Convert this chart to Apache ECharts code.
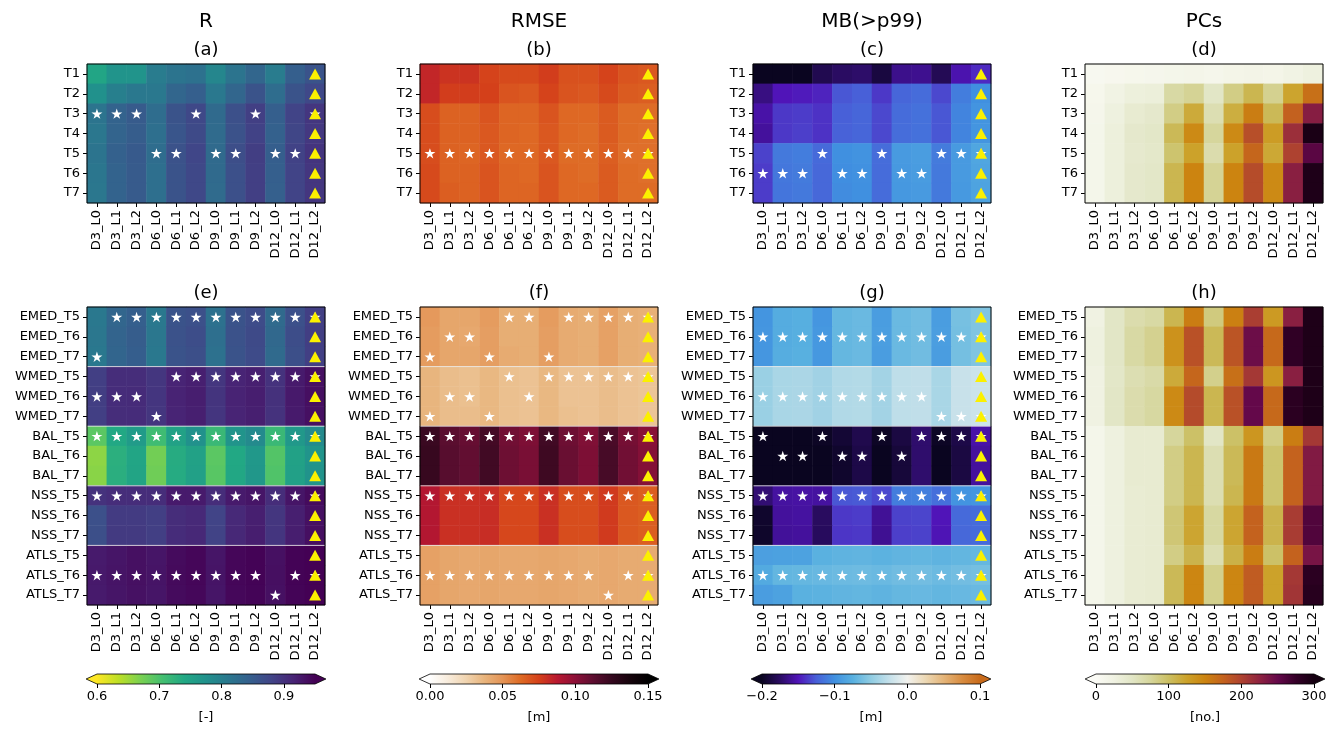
<!DOCTYPE html>
<html><head><meta charset="utf-8">
<script src="https://cdn.jsdelivr.net/npm/echarts@6.0.0/dist/echarts.min.js"></script>
<style>html,body{margin:0;padding:0;background:#fff}#c{width:1340px;height:730px}</style>
</head><body><div id="c"></div><script>
const cols = ['D3_L0','D3_L1','D3_L2','D6_L0','D6_L1','D6_L2','D9_L0','D9_L1','D9_L2','D12_L0','D12_L1','D12_L2'];
const rowsTop = ['T1','T2','T3','T4','T5','T6','T7'];
const rowsBot = ['EMED_T5','EMED_T6','EMED_T7','WMED_T5','WMED_T6','WMED_T7','BAL_T5','BAL_T6','BAL_T7','NSS_T5','NSS_T6','NSS_T7','ATLS_T5','ATLS_T6','ATLS_T7'];

const R_top = [
[0.745,0.77,0.77,0.805,0.815,0.82,0.79,0.815,0.835,0.805,0.845,0.86],
[0.775,0.80,0.81,0.81,0.835,0.845,0.81,0.835,0.86,0.825,0.86,0.875],
[0.815,0.84,0.85,0.825,0.86,0.875,0.83,0.865,0.885,0.845,0.88,0.895],
[0.812,0.838,0.848,0.822,0.858,0.872,0.828,0.862,0.882,0.842,0.878,0.893],
[0.815,0.842,0.852,0.825,0.862,0.877,0.83,0.867,0.887,0.846,0.882,0.897],
[0.813,0.84,0.85,0.823,0.86,0.875,0.829,0.865,0.885,0.845,0.88,0.895],
[0.812,0.84,0.85,0.822,0.86,0.875,0.828,0.865,0.885,0.844,0.88,0.895]];
const R_bot = [
[0.81,0.835,0.845,0.81,0.86,0.865,0.82,0.86,0.87,0.83,0.865,0.885],
[0.812,0.838,0.848,0.812,0.862,0.868,0.822,0.862,0.872,0.832,0.868,0.887],
[0.81,0.836,0.846,0.81,0.86,0.866,0.82,0.86,0.871,0.83,0.866,0.886],
[0.885,0.905,0.905,0.895,0.915,0.92,0.895,0.915,0.92,0.9,0.925,0.935],
[0.887,0.906,0.907,0.896,0.916,0.921,0.897,0.916,0.921,0.901,0.926,0.936],
[0.886,0.905,0.906,0.895,0.915,0.92,0.896,0.915,0.92,0.9,0.925,0.935],
[0.69,0.74,0.76,0.71,0.75,0.775,0.715,0.77,0.785,0.715,0.765,0.785],
[0.66,0.73,0.745,0.675,0.735,0.75,0.69,0.74,0.765,0.695,0.75,0.77],
[0.662,0.731,0.746,0.677,0.736,0.752,0.692,0.742,0.766,0.697,0.752,0.772],
[0.9,0.905,0.905,0.905,0.925,0.925,0.905,0.925,0.93,0.905,0.93,0.94],
[0.865,0.89,0.89,0.885,0.905,0.91,0.88,0.91,0.92,0.895,0.92,0.935],
[0.866,0.891,0.891,0.886,0.906,0.911,0.881,0.911,0.921,0.896,0.921,0.936],
[0.925,0.93,0.935,0.93,0.94,0.945,0.93,0.945,0.948,0.935,0.948,0.95],
[0.926,0.931,0.935,0.931,0.941,0.945,0.931,0.945,0.948,0.936,0.948,0.95],
[0.925,0.93,0.934,0.93,0.94,0.944,0.93,0.944,0.947,0.935,0.947,0.95]];

const RMSE_top = [
[0.083,0.079,0.079,0.074,0.072,0.072,0.076,0.070,0.070,0.074,0.069,0.068],
[0.083,0.076,0.076,0.075,0.069,0.068,0.074,0.069,0.068,0.072,0.067,0.066],
[0.071,0.065,0.065,0.069,0.064,0.064,0.069,0.063,0.063,0.067,0.062,0.062],
[0.071,0.065,0.065,0.068,0.064,0.063,0.068,0.063,0.062,0.067,0.062,0.061],
[0.071,0.065,0.064,0.068,0.063,0.063,0.068,0.062,0.062,0.066,0.061,0.061],
[0.072,0.065,0.065,0.069,0.064,0.063,0.069,0.063,0.062,0.067,0.062,0.061],
[0.072,0.066,0.065,0.069,0.064,0.064,0.069,0.063,0.063,0.067,0.062,0.062]];
const RMSE_bot = [
[0.048,0.043,0.043,0.047,0.040,0.040,0.047,0.041,0.040,0.045,0.040,0.039],
[0.047,0.043,0.042,0.046,0.040,0.040,0.046,0.041,0.040,0.045,0.040,0.039],
[0.047,0.043,0.043,0.046,0.041,0.040,0.046,0.041,0.040,0.045,0.040,0.039],
[0.037,0.034,0.033,0.036,0.033,0.032,0.036,0.032,0.032,0.034,0.032,0.031],
[0.037,0.034,0.033,0.036,0.033,0.032,0.036,0.032,0.032,0.034,0.032,0.031],
[0.037,0.034,0.034,0.036,0.033,0.032,0.036,0.033,0.032,0.034,0.032,0.031],
[0.123,0.113,0.110,0.120,0.107,0.104,0.121,0.108,0.103,0.118,0.106,0.101],
[0.124,0.114,0.111,0.121,0.108,0.105,0.122,0.109,0.104,0.119,0.107,0.102],
[0.124,0.114,0.111,0.121,0.108,0.105,0.122,0.109,0.104,0.119,0.107,0.102],
[0.089,0.080,0.080,0.081,0.073,0.073,0.080,0.071,0.071,0.077,0.068,0.066],
[0.089,0.080,0.080,0.081,0.073,0.073,0.080,0.071,0.071,0.077,0.068,0.066],
[0.089,0.080,0.080,0.081,0.073,0.073,0.080,0.071,0.071,0.077,0.068,0.066],
[0.045,0.043,0.042,0.043,0.042,0.042,0.043,0.042,0.041,0.042,0.041,0.041],
[0.045,0.043,0.042,0.043,0.042,0.042,0.043,0.042,0.041,0.042,0.041,0.041],
[0.045,0.043,0.042,0.043,0.042,0.042,0.043,0.042,0.041,0.042,0.041,0.041]];

const MB_top = [
[-0.2,-0.2,-0.2,-0.182,-0.175,-0.173,-0.188,-0.163,-0.162,-0.18,-0.153,-0.143],
[-0.166,-0.15,-0.148,-0.145,-0.128,-0.125,-0.138,-0.122,-0.119,-0.133,-0.11,-0.1],
[-0.155,-0.138,-0.137,-0.14,-0.125,-0.122,-0.133,-0.119,-0.116,-0.128,-0.106,-0.097],
[-0.158,-0.138,-0.136,-0.14,-0.124,-0.122,-0.133,-0.118,-0.116,-0.128,-0.106,-0.096],
[-0.135,-0.112,-0.11,-0.12,-0.1,-0.098,-0.118,-0.092,-0.09,-0.111,-0.092,-0.083],
[-0.137,-0.113,-0.111,-0.121,-0.101,-0.099,-0.119,-0.093,-0.091,-0.112,-0.092,-0.084],
[-0.137,-0.114,-0.112,-0.121,-0.102,-0.1,-0.119,-0.094,-0.092,-0.112,-0.093,-0.085]];
const MB_bot = [
[-0.096,-0.078,-0.076,-0.095,-0.069,-0.067,-0.09,-0.067,-0.064,-0.09,-0.061,-0.057],
[-0.095,-0.078,-0.076,-0.094,-0.069,-0.067,-0.089,-0.067,-0.064,-0.089,-0.062,-0.057],
[-0.095,-0.077,-0.075,-0.094,-0.069,-0.067,-0.09,-0.067,-0.064,-0.09,-0.062,-0.057],
[-0.045,-0.038,-0.037,-0.042,-0.034,-0.033,-0.041,-0.028,-0.027,-0.038,-0.023,-0.021],
[-0.045,-0.038,-0.037,-0.042,-0.034,-0.033,-0.041,-0.028,-0.027,-0.038,-0.023,-0.021],
[-0.045,-0.038,-0.037,-0.042,-0.034,-0.033,-0.041,-0.028,-0.027,-0.038,-0.023,-0.021],
[-0.2,-0.2,-0.2,-0.198,-0.192,-0.183,-0.198,-0.187,-0.172,-0.198,-0.185,-0.155],
[-0.2,-0.2,-0.2,-0.2,-0.195,-0.185,-0.2,-0.19,-0.172,-0.2,-0.187,-0.158],
[-0.2,-0.2,-0.2,-0.2,-0.195,-0.185,-0.2,-0.19,-0.172,-0.2,-0.187,-0.158],
[-0.17,-0.157,-0.156,-0.157,-0.128,-0.127,-0.133,-0.11,-0.109,-0.117,-0.097,-0.096],
[-0.195,-0.158,-0.157,-0.176,-0.138,-0.137,-0.16,-0.135,-0.134,-0.15,-0.12,-0.119],
[-0.196,-0.159,-0.158,-0.177,-0.139,-0.138,-0.161,-0.136,-0.135,-0.151,-0.121,-0.12],
[-0.088,-0.087,-0.086,-0.074,-0.072,-0.071,-0.073,-0.071,-0.07,-0.072,-0.07,-0.069],
[-0.08,-0.07,-0.069,-0.068,-0.066,-0.065,-0.067,-0.064,-0.063,-0.066,-0.063,-0.062],
[-0.09,-0.086,-0.074,-0.073,-0.071,-0.07,-0.072,-0.069,-0.068,-0.07,-0.068,-0.067]];

const PC_top = [
[8,10,12,13,15,16,14,17,19,17,22,28],
[12,22,30,32,70,78,50,85,108,80,123,165],
[14,28,40,45,85,118,62,115,155,105,176,230],
[15,30,45,48,105,145,75,145,190,130,215,295],
[15,30,43,46,95,125,65,125,172,120,200,255],
[15,30,45,48,108,150,78,150,192,145,228,292],
[15,30,45,48,108,150,78,150,192,145,228,292]];
const PC_bot = [
[25,50,65,70,108,155,88,153,203,132,228,292],
[28,50,70,80,138,188,105,185,245,170,278,292],
[28,50,70,80,138,188,105,185,245,170,278,292],
[25,48,62,68,118,172,82,165,208,135,228,292],
[25,50,65,72,145,193,108,188,250,170,282,292],
[25,50,65,72,145,193,108,188,250,170,282,292],
[15,28,40,40,75,98,50,98,135,85,155,208],
[15,28,40,40,85,108,62,105,158,95,175,233],
[15,28,40,40,85,108,62,105,158,95,175,233],
[15,28,38,40,85,108,62,108,158,95,175,233],
[15,28,38,40,92,122,72,122,175,110,205,260],
[15,28,38,40,92,122,72,122,175,110,205,260],
[15,28,38,40,85,110,62,112,155,98,175,238],
[15,28,38,40,105,148,82,148,180,125,208,282],
[15,28,38,40,105,148,82,148,180,125,210,285]];

// significance stars: [column index, row index]
const stars_a = [[0,2],[1,2],[2,2],[5,2],[8,2],[11,2],[3,4],[4,4],[6,4],[7,4],[9,4],[10,4]];
const stars_b = [[0,4],[1,4],[2,4],[3,4],[4,4],[5,4],[6,4],[7,4],[8,4],[9,4],[10,4],[11,4]];
const stars_c = [[3,4],[6,4],[9,4],[10,4],[11,4],[0,5],[1,5],[2,5],[4,5],[5,5],[7,5],[8,5]];
const stars_e = [[1,0],[2,0],[3,0],[4,0],[5,0],[6,0],[7,0],[8,0],[9,0],[10,0],[11,0],[0,2],
 [4,3],[5,3],[6,3],[7,3],[8,3],[9,3],[10,3],[11,3],[0,4],[1,4],[2,4],[3,5],
 [0,6],[1,6],[2,6],[3,6],[4,6],[5,6],[6,6],[7,6],[8,6],[9,6],[10,6],[11,6],
 [0,9],[1,9],[2,9],[3,9],[4,9],[5,9],[6,9],[7,9],[8,9],[9,9],[10,9],[11,9],
 [0,13],[1,13],[2,13],[3,13],[4,13],[5,13],[6,13],[7,13],[8,13],[10,13],[11,13],[9,14]];
const stars_f = [[4,0],[5,0],[7,0],[8,0],[9,0],[10,0],[11,0],[1,1],[2,1],[0,2],[3,2],[6,2],
 [4,3],[6,3],[7,3],[8,3],[9,3],[10,3],[11,3],[1,4],[2,4],[5,4],[0,5],[3,5],
 [0,6],[1,6],[2,6],[3,6],[4,6],[5,6],[6,6],[7,6],[8,6],[9,6],[10,6],[11,6],
 [0,9],[1,9],[2,9],[3,9],[4,9],[5,9],[6,9],[7,9],[8,9],[9,9],[10,9],[11,9],
 [0,13],[1,13],[2,13],[3,13],[4,13],[5,13],[6,13],[7,13],[8,13],[10,13],[11,13],[9,14]];
const stars_g = [[0,1],[1,1],[2,1],[3,1],[4,1],[5,1],[6,1],[7,1],[8,1],[9,1],[10,1],[11,1],
 [0,4],[1,4],[2,4],[3,4],[4,4],[5,4],[6,4],[7,4],[8,4],[9,5],[10,5],[11,5],
 [0,6],[3,6],[6,6],[8,6],[9,6],[10,6],[11,6],[1,7],[2,7],[4,7],[5,7],[7,7],
 [0,9],[1,9],[2,9],[3,9],[4,9],[5,9],[6,9],[7,9],[8,9],[9,9],[10,9],[11,9],
 [0,13],[1,13],[2,13],[3,13],[4,13],[5,13],[6,13],[7,13],[8,13],[9,13],[10,13],[11,13]];
const triangleColumn = 'D12_L2';
const groupStartRows = [3,6,9,12];

const cmapR = ['#fde725','#bddf26','#7ad151','#44bf70','#22a884','#21918c','#2a788e','#355f8d','#414487','#482475','#440154'];
const cmapRMSE = ['#ffffff','#f8ecdc','#f0d4b0','#e8b47c','#e49456','#de6a24','#d4401a','#b81830','#8c1038','#5c0e30','#34081e','#16040c','#000000'];
const cmapMB = ['#0a0520','#2a0c62','#5014b8','#4860d8','#4090e0','#58b0e0','#90cce2','#c4e0ea','#f2f2ee','#ecd8b4','#e4b478','#d88c40','#c86a1a'];
const cmapPC = ['#fbfbf6','#f0f2e2','#e2e6c6','#d6d69c','#cbbf62','#cca22a','#cc8410','#c4621e','#ae4230','#8e2240','#64084a','#340028','#140010'];

const colTitles = ['R','RMSE','MB(>p99)','PCs'];
const panelLetters = ['(a)','(b)','(c)','(d)','(e)','(f)','(g)','(h)'];
const ticksR = [0.6,0.7,0.8,0.9], labelsR = ['0.6','0.7','0.8','0.9'];
const ticksRMSE = [0,0.05,0.1,0.15], labelsRMSE = ['0.00','0.05','0.10','0.15'];
const ticksMB = [-0.2,-0.1,0,0.1], labelsMB = ['\u22120.2','\u22120.1','0.0','0.1'];
const ticksPC = [0,100,200,300], labelsPC = ['0','100','200','300'];
const units = ['[-]','[m]','[m]','[no.]'];

const FONT = 'DejaVu Sans';
const cmaps = [
 {colors:cmapR, min:0.6, max:0.95, ticks:ticksR, labels:labelsR},
 {colors:cmapRMSE, min:0, max:0.15, ticks:ticksRMSE, labels:labelsRMSE},
 {colors:cmapMB, min:-0.2, max:0.1, ticks:ticksMB, labels:labelsMB},
 {colors:cmapPC, min:0, max:300, ticks:ticksPC, labels:labelsPC}
];
const panels = [
 {m:R_top, rows:rowsTop, k:0, r:0, stars:stars_a, tri:true, sep:false},
 {m:RMSE_top, rows:rowsTop, k:1, r:0, stars:stars_b, tri:true, sep:false},
 {m:MB_top, rows:rowsTop, k:2, r:0, stars:stars_c, tri:true, sep:false},
 {m:PC_top, rows:rowsTop, k:3, r:0, stars:[], tri:false, sep:false},
 {m:R_bot, rows:rowsBot, k:0, r:1, stars:stars_e, tri:true, sep:true},
 {m:RMSE_bot, rows:rowsBot, k:1, r:1, stars:stars_f, tri:true, sep:true},
 {m:MB_bot, rows:rowsBot, k:2, r:1, stars:stars_g, tri:true, sep:true},
 {m:PC_bot, rows:rowsBot, k:3, r:1, stars:[], tri:false, sep:false}
];

const colLeft = [87, 420, 753, 1085];
const panelW = 238;
const rowTop = [64, 307], rowH = [139, 298];
const cbLeft = [97, 430, 762, 1096], cbW = 218, cbTop = 674, cbH = 10;

const starPath = 'path://M50,0 L61.23,34.55 L97.55,34.55 L68.16,55.9 L79.39,90.45 L50,69.1 L20.61,90.45 L31.84,55.9 L2.45,34.55 L38.77,34.55 Z';

const grid = [], xAxis = [], yAxis = [], series = [], graphic = [];
const heatIdx = [[],[],[],[]];
const lab = {color:'#000', fontSize:13, fontFamily:FONT};
const tick = {show:true, length:4, lineStyle:{color:'#000', width:1}};

panels.forEach((p, i) => {
  const c = p.k;
  grid.push({left: colLeft[c], top: rowTop[p.r], width: panelW, height: rowH[p.r], containLabel:false});
  xAxis.push({type:'category', gridIndex:i, data:cols, axisLine:{show:false},
    axisTick:Object.assign({alignWithLabel:true}, tick),
    axisLabel:Object.assign({rotate:90, margin:7, interval:0}, lab), splitLine:{show:false}});
  yAxis.push({type:'category', gridIndex:i, data:p.rows, inverse:true, axisLine:{show:false},
    axisTick:Object.assign({alignWithLabel:true}, tick),
    axisLabel:Object.assign({margin:7, interval:0}, lab), splitLine:{show:false}});
  const hd = [];
  p.m.forEach((row, ri) => row.forEach((v, ci) => hd.push([ci, ri, v])));
  heatIdx[c].push(series.length);
  series.push({type:'heatmap', xAxisIndex:i, yAxisIndex:i, data:hd, silent:true,
    itemStyle:{borderWidth:0}, emphasis:{disabled:true}, progressive:0, z:1});
  if (p.sep) {
    series.push({type:'custom', xAxisIndex:i, yAxisIndex:i, silent:true, z:2,
      data: groupStartRows.map(r => [0, r]),
      renderItem: (params, api) => {
        const cs = params.coordSys;
        const pt = api.coord([api.value(0), api.value(1)]);
        const sz = api.size([1, 1]);
        const y = pt[1] - sz[1] / 2;
        return {type:'line', shape:{x1:cs.x, y1:y, x2:cs.x + cs.width, y2:y},
          style:{stroke:'rgba(235,235,235,0.85)', lineWidth:1}};
      }});
  }
  if (p.stars.length) {
    series.push({type:'scatter', xAxisIndex:i, yAxisIndex:i, data:p.stars, silent:true,
      symbol:starPath, symbolKeepAspect:true, symbolSize:11, itemStyle:{color:'#ffffff', opacity:1}, z:3});
  }
  if (p.tri) {
    series.push({type:'scatter', xAxisIndex:i, yAxisIndex:i, silent:true,
      data:p.rows.map(r => [triangleColumn, r]),
      symbol:'triangle', symbolSize:[12,11], itemStyle:{color:'#fbf000', opacity:1}, z:4});
  }
  series.push({type:'custom', xAxisIndex:i, yAxisIndex:i, silent:true, z:5, data:[[0,0]],
    renderItem: (params) => {
      const cs = params.coordSys;
      return {type:'rect', shape:{x:cs.x, y:cs.y, width:cs.width, height:cs.height},
        style:{fill:null, stroke:'#000', lineWidth:1}};
    }});
  graphic.push({type:'text', x: colLeft[c] + panelW/2, y: rowTop[p.r] - 14,
    style:{text:panelLetters[i], fontSize:18, fontFamily:FONT, fill:'#000', align:'center', verticalAlign:'middle'}});
});

colTitles.forEach((t, c) => {
  graphic.push({type:'text', x: colLeft[c] + panelW/2, y: 22,
    style:{text:t, fontSize:20, fontFamily:FONT, fill:'#000', align:'center', verticalAlign:'middle'}});
});

const visualMap = cmaps.map((cm, c) => ({type:'continuous', show:false, seriesIndex:heatIdx[c], dimension:2,
  min:cm.min, max:cm.max, inRange:{color:cm.colors}, outOfRange:{color:['#000']}}));

// colorbars
cmaps.forEach((cm, c) => {
  const gi = grid.length;
  grid.push({left:cbLeft[c], top:cbTop, width:cbW, height:cbH, containLabel:false});
  xAxis.push({type:'value', gridIndex:gi, min:cm.min, max:cm.max, axisLine:{show:false}, splitLine:{show:false},
    axisTick:Object.assign({customValues:cm.ticks}, tick),
    axisLabel:Object.assign({customValues:cm.ticks, margin:6, formatter: v => {
      const idx = cm.ticks.findIndex(t => Math.abs(t - v) < 1e-9); return idx >= 0 ? cm.labels[idx] : ''; }}, lab),
    name:units[c], nameLocation:'middle', nameGap:27, nameTextStyle:{color:'#000', fontSize:13, fontFamily:FONT}});
  yAxis.push({type:'value', gridIndex:gi, min:0, max:1, show:false});
  const stops = cm.colors.map((col, j) => ({offset: j / (cm.colors.length - 1), color: col}));
  series.push({type:'custom', xAxisIndex:gi, yAxisIndex:gi, silent:true, data:[[cm.min, cm.max]],
    renderItem: (params, api) => {
      const a = api.coord([api.value(0), 0]);
      const b = api.coord([api.value(1), 1]);
      const x0 = a[0], x1 = b[0], yb = a[1], yt = b[1], ym = (yb + yt) / 2;
      const ext = 0.05 * (x1 - x0);
      return {type:'group', children:[
        {type:'rect', shape:{x:x0 - 0.3, y:yt, width:x1 - x0 + 0.6, height:yb - yt},
          style:{fill:new echarts.graphic.LinearGradient(0, 0, 1, 0, stops)}},
        {type:'polygon', shape:{points:[[x0, yt], [x0 - ext, ym], [x0, yb]]}, style:{fill:cm.colors[0]}},
        {type:'polygon', shape:{points:[[x1, yt], [x1 + ext, ym], [x1, yb]]}, style:{fill:cm.colors[cm.colors.length - 1]}},
        {type:'polygon', shape:{points:[[x0 - ext, ym], [x0, yt], [x1, yt], [x1 + ext, ym], [x1, yb], [x0, yb]]},
          style:{fill:null, stroke:'#000', lineWidth:0.8}}
      ]};
    }});
});

const chart = echarts.init(document.getElementById('c'), null, {renderer:'canvas'});
chart.setOption({animation:false, backgroundColor:'#fff', grid, xAxis, yAxis, visualMap, series, graphic, tooltip:{show:false}});
</script></body></html>
